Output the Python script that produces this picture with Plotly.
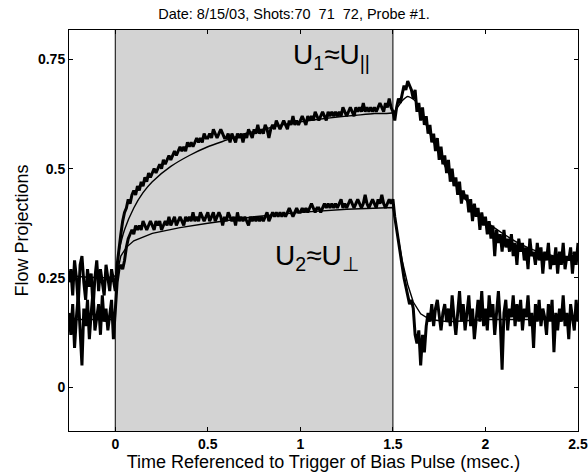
import numpy as np
import plotly.graph_objects as go

# ---------------- data ----------------
t_start = -0.25
t_step = 0.01

u1_data = [
    0.24, 0.27, 0.21, 0.29, 0.25, 0.19, 0.28, 0.30, 0.24, 0.20,
    0.27, 0.23, 0.26, 0.18, 0.25, 0.29, 0.22, 0.27, 0.24, 0.21,
    0.28, 0.25, 0.22, 0.27, 0.24,
    0.22, 0.28, 0.32, 0.35, 0.38, 0.40, 0.41, 0.43, 0.42, 0.44,
    0.45, 0.44, 0.46, 0.45, 0.47, 0.46, 0.48, 0.47, 0.49, 0.48,
    0.49, 0.50, 0.49, 0.50, 0.51, 0.50, 0.52, 0.51, 0.52, 0.53,
    0.52, 0.53, 0.54, 0.53, 0.54, 0.55, 0.54, 0.55, 0.54, 0.56,
    0.55, 0.56, 0.55, 0.56, 0.57, 0.56, 0.57, 0.56, 0.58, 0.57,
    0.57, 0.58, 0.57, 0.59, 0.58, 0.57, 0.58, 0.59, 0.58, 0.57,
    0.57, 0.58, 0.56, 0.58, 0.57, 0.56, 0.58, 0.57, 0.58, 0.56,
    0.58, 0.57, 0.59, 0.58, 0.57, 0.59, 0.58, 0.60, 0.58, 0.59,
    0.58, 0.60, 0.59, 0.57, 0.59, 0.60, 0.59, 0.61, 0.60, 0.59,
    0.60, 0.61, 0.60, 0.59, 0.61, 0.60, 0.62, 0.60, 0.61, 0.60,
    0.61, 0.62, 0.61, 0.60, 0.62, 0.61, 0.62, 0.61, 0.63, 0.62,
    0.61, 0.62, 0.63, 0.62, 0.61, 0.63, 0.62, 0.63, 0.62, 0.63,
    0.62, 0.63, 0.62, 0.64, 0.63, 0.62, 0.63, 0.64, 0.63, 0.62,
    0.64, 0.63, 0.64, 0.63, 0.65, 0.63, 0.64, 0.63, 0.64, 0.63,
    0.64, 0.63, 0.64, 0.65, 0.64, 0.63, 0.65, 0.64, 0.66, 0.64,
    0.63, 0.61, 0.64, 0.66, 0.65, 0.67, 0.69, 0.68, 0.70, 0.69,
    0.68, 0.66, 0.68, 0.63, 0.65, 0.61, 0.64, 0.60, 0.62, 0.58,
    0.60, 0.56, 0.58, 0.54, 0.57, 0.52, 0.55, 0.51, 0.53, 0.49,
    0.52, 0.47, 0.50, 0.46, 0.48, 0.44, 0.47, 0.42, 0.45, 0.43,
    0.44, 0.40, 0.43, 0.38, 0.42, 0.39, 0.41, 0.36, 0.40, 0.37,
    0.39, 0.35, 0.38, 0.34, 0.37, 0.30, 0.36, 0.33, 0.35, 0.31,
    0.36, 0.32, 0.34, 0.31, 0.35, 0.30, 0.33, 0.28, 0.34, 0.31,
    0.33, 0.29, 0.32, 0.27, 0.34, 0.30, 0.31, 0.28, 0.33, 0.29,
    0.32, 0.26, 0.31, 0.29, 0.33, 0.27, 0.30, 0.28, 0.32, 0.26,
    0.31, 0.28, 0.33, 0.27, 0.30, 0.29, 0.32, 0.26, 0.31, 0.28,
    0.33,
]

u2_data = [
    0.17, 0.12, 0.19, 0.09, 0.16, 0.21, 0.13, 0.05, 0.18, 0.14,
    0.20, 0.11, 0.17, 0.22, 0.13, 0.16, 0.19, 0.12, 0.21, 0.15,
    0.18, 0.13, 0.17, 0.20, 0.11,
    0.19, 0.24, 0.27, 0.28, 0.27, 0.29, 0.32, 0.34, 0.35, 0.36,
    0.35, 0.37, 0.36, 0.37, 0.36, 0.38, 0.37, 0.36, 0.37, 0.38,
    0.37, 0.36, 0.38, 0.37, 0.38, 0.36, 0.37, 0.38, 0.37, 0.39,
    0.37, 0.38, 0.39, 0.37, 0.38, 0.39, 0.38, 0.37, 0.39, 0.38,
    0.39, 0.38, 0.40, 0.38, 0.39, 0.38, 0.40, 0.39, 0.38, 0.39,
    0.40, 0.38, 0.39, 0.40, 0.38, 0.39, 0.40, 0.39, 0.37, 0.39,
    0.38, 0.40, 0.39, 0.38, 0.39, 0.37, 0.40, 0.38, 0.39, 0.38,
    0.39, 0.38, 0.37, 0.39, 0.38, 0.39, 0.38, 0.39, 0.38, 0.39,
    0.38, 0.39, 0.40, 0.38, 0.39, 0.40, 0.39, 0.40, 0.39, 0.40,
    0.39, 0.40, 0.39, 0.40, 0.41, 0.40, 0.39, 0.40, 0.41, 0.40,
    0.40, 0.41, 0.40, 0.41, 0.40, 0.41, 0.42, 0.41, 0.40, 0.41,
    0.41, 0.40, 0.41, 0.42, 0.41, 0.42, 0.41, 0.42, 0.41, 0.42,
    0.41, 0.42, 0.43, 0.41, 0.42, 0.41, 0.42, 0.43, 0.42, 0.41,
    0.42, 0.43, 0.42, 0.41, 0.42, 0.44, 0.42, 0.41, 0.42, 0.43,
    0.42, 0.41, 0.43, 0.42, 0.44, 0.42, 0.41, 0.42, 0.43, 0.42,
    0.43, 0.39, 0.36, 0.33, 0.30, 0.28, 0.25, 0.23, 0.21, 0.19,
    0.20, 0.18, 0.12, 0.10, 0.13, 0.05, 0.12, 0.08, 0.14, 0.17,
    0.15, 0.19, 0.14, 0.18, 0.20, 0.16, 0.13, 0.17, 0.19, 0.15,
    0.18, 0.14, 0.21, 0.16, 0.12, 0.17, 0.22, 0.15, 0.19, 0.13,
    0.17, 0.21, 0.14, 0.18, 0.11, 0.16, 0.20, 0.15, 0.22, 0.14,
    0.18, 0.13, 0.21, 0.16, 0.19, 0.12, 0.17, 0.22, 0.15, 0.04,
    0.17, 0.20, 0.13, 0.18, 0.16, 0.21, 0.14, 0.19, 0.15, 0.20,
    0.13, 0.18, 0.16, 0.21, 0.14, 0.17, 0.09, 0.19, 0.15, 0.20,
    0.14, 0.18, 0.16, 0.12, 0.19, 0.15, 0.20, 0.08, 0.17, 0.13,
    0.18, 0.15, 0.21, 0.14, 0.17, 0.11, 0.19, 0.16, 0.13, 0.20,
    0.15,
]

fit1_t = [-0.25, 0.0, 0.02, 0.05, 0.1, 0.15, 0.2, 0.3, 0.4, 0.5, 0.6, 0.7, 0.8,
          0.9, 1.0, 1.1, 1.2, 1.3, 1.4, 1.5, 1.55, 1.58, 1.62, 1.7, 1.8, 1.9,
          2.0, 2.1, 2.2, 2.3, 2.4, 2.5]
fit1_y = [0.255, 0.255, 0.31, 0.36, 0.41, 0.445, 0.47, 0.505, 0.53, 0.55, 0.565,
          0.58, 0.59, 0.60, 0.607, 0.613, 0.618, 0.622, 0.626, 0.628, 0.655,
          0.665, 0.655, 0.58, 0.49, 0.425, 0.38, 0.35, 0.325, 0.308, 0.298, 0.292]

fit2_t = [-0.25, 0.0, 0.005, 0.03, 0.06, 0.1, 0.2, 0.35, 0.5, 0.75, 1.0, 1.25,
          1.5, 1.52, 1.55, 1.58, 1.61, 1.65, 1.7, 1.8, 2.0, 2.5]
fit2_y = [0.155, 0.155, 0.25, 0.30, 0.32, 0.335, 0.352, 0.365, 0.375, 0.39, 0.40,
          0.407, 0.411, 0.36, 0.29, 0.235, 0.195, 0.168, 0.155, 0.15, 0.155, 0.155]

x_ticks = [0, 0.5, 1, 1.5, 2, 2.5]
x_tick_text = ["0", "0.5", "1", "1.5", "2", "2.5"]
y_ticks = [0, 0.25, 0.5, 0.75]
y_tick_text = ["0", "0.25", "0.5", "0.75"]

bias_on, bias_off = 0.0, 1.5

t = np.round(t_start + t_step * np.arange(len(u1_data)), 3)

FONT = "Liberation Sans, Arial, sans-serif"

# ---------------- figure ----------------
fig = go.Figure()

fig.add_shape(type="rect", xref="x", yref="paper", x0=bias_on, x1=bias_off,
              y0=0, y1=1, fillcolor="#d3d3d3", line=dict(width=0), layer="below")
for xv in (bias_on, bias_off):
    fig.add_shape(type="line", xref="x", yref="paper", x0=xv, x1=xv, y0=0, y1=1,
                  line=dict(color="black", width=1), layer="above")

fig.add_trace(go.Scatter(x=t, y=u1_data, mode="lines",
                         line=dict(color="black", width=3), hoverinfo="skip"))
fig.add_trace(go.Scatter(x=t, y=u2_data, mode="lines",
                         line=dict(color="black", width=3), hoverinfo="skip"))
fig.add_trace(go.Scatter(x=fit1_t, y=fit1_y, mode="lines", line_shape="spline",
                         line=dict(color="black", width=1.4, smoothing=0.6),
                         hoverinfo="skip"))
fig.add_trace(go.Scatter(x=fit2_t, y=fit2_y, mode="lines",
                         line=dict(color="black", width=1.4), hoverinfo="skip"))

fig.add_annotation(x=1.17, y=0.757, xref="x", yref="y", showarrow=False,
                   text="U<sub>1</sub>≈U<sub>||</sub>",
                   font=dict(family=FONT, size=28, color="black"))
fig.add_annotation(x=1.09, y=0.296, xref="x", yref="y", showarrow=False,
                   text="U<sub>2</sub>≈U<sub>⊥</sub>",
                   font=dict(family=FONT, size=28, color="black"))

axis_common = dict(showgrid=False, zeroline=False, showline=True,
                   linecolor="black", linewidth=1, mirror="ticks",
                   ticks="inside", ticklen=4, tickcolor="black", automargin=False,
                   tickfont=dict(family=FONT, size=14, color="black", weight="bold"))

fig.update_xaxes(range=[-0.25, 2.5], tickvals=x_ticks, ticktext=x_tick_text,
                 title=dict(text="Time Referenced to Trigger of Bias Pulse (msec.)",
                            font=dict(family=FONT, size=18, color="black"),
                            standoff=2),
                 **axis_common)
fig.update_yaxes(range=[-0.1, 0.817], tickvals=y_ticks, ticktext=y_tick_text,
                 title=dict(text="Flow Projections",
                            font=dict(family=FONT, size=18, color="black"),
                            standoff=4),
                 **axis_common)

fig.update_layout(
    width=588, height=476,
    margin=dict(l=69, r=10, t=30, b=45),
    plot_bgcolor="white", paper_bgcolor="white",
    showlegend=False,
    title=dict(text="Date: 8/15/03, Shots:70  71  72, Probe #1.",
               x=0.5, xref="container", y=0.971, yanchor="middle",
               font=dict(family=FONT, size=14.5, color="black")),
)

fig.write_html("out.html")
